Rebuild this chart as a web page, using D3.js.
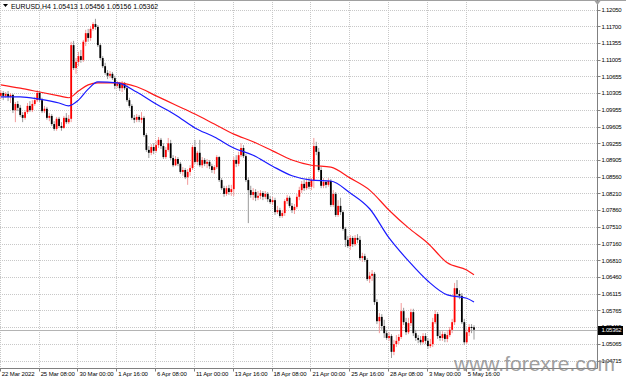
<!DOCTYPE html>
<html>
<head>
<meta charset="utf-8">
<script src="https://cdn.jsdelivr.net/npm/d3@7/dist/d3.min.js"></script>
<style>
body { margin: 0; background: #fff; }
svg { display: block; }
text { font-family: "Liberation Sans", Arial, sans-serif; }
</style>
</head>
<body>
<div id="chart"></div>
<script>
// EURUSD H4 candles, oldest first
var symbol = "EURUSD,H4";

var open = [
  1.1025, 1.1031, 1.1025, 1.1029, 1.1023, 1.1027, 1.0995, 1.1008, 1.1000, 1.0985,
  1.0979, 1.0991, 1.1004, 1.0995, 1.1008, 1.1016, 1.1031, 1.1016, 1.0993, 1.0998,
  1.0979, 1.0983, 1.0966, 1.0956, 1.0977, 1.0962, 1.0958, 1.0979, 1.0970, 1.0977,
  1.1131, 1.1083, 1.1096, 1.1108, 1.1100, 1.1138, 1.1156, 1.1146, 1.1165, 1.1175,
  1.1169, 1.1131, 1.1104, 1.1087, 1.1073, 1.1067, 1.1071, 1.1062, 1.1046, 1.1050,
  1.1041, 1.1052, 1.1041, 1.1016, 1.1004, 1.0979, 1.0975, 1.0981, 1.0975, 1.0979,
  1.0943, 1.0912, 1.0906, 1.0918, 1.0910, 1.0922, 1.0933, 1.0920, 1.0897, 1.0912,
  1.0926, 1.0895, 1.0880, 1.0893, 1.0883, 1.0866, 1.0870, 1.0855, 1.0866, 1.0874,
  1.0918, 1.0887, 1.0906, 1.0880, 1.0891, 1.0883, 1.0887, 1.0878, 1.0870, 1.0876,
  1.0897, 1.0849, 1.0832, 1.0820, 1.0832, 1.0824, 1.0830, 1.0891, 1.0883, 1.0901,
  1.0916, 1.0899, 1.0849, 1.0828, 1.0818, 1.0824, 1.0812, 1.0816, 1.0822, 1.0814,
  1.0820, 1.0809, 1.0803, 1.0807, 1.0782, 1.0786, 1.0774, 1.0780, 1.0805, 1.0812,
  1.0795, 1.0786, 1.0793, 1.0814, 1.0828, 1.0841, 1.0832, 1.0845, 1.0835, 1.0849,
  1.0920, 1.0908, 1.0870, 1.0837, 1.0845, 1.0839, 1.0847, 1.0797, 1.0820, 1.0776,
  1.0795, 1.0782, 1.0747, 1.0724, 1.0711, 1.0728, 1.0715, 1.0728, 1.0724, 1.0686,
  1.0690, 1.0682, 1.0642, 1.0649, 1.0653, 1.0594, 1.0554, 1.0563, 1.0544, 1.0529,
  1.0519, 1.0523, 1.0490, 1.0506, 1.0513, 1.0521, 1.0575, 1.0552, 1.0531, 1.0550,
  1.0573, 1.0529, 1.0519, 1.0515, 1.0510, 1.0523, 1.0513, 1.0502, 1.0506, 1.0552,
  1.0569, 1.0523, 1.0519, 1.0527, 1.0517, 1.0525, 1.0536, 1.0552, 1.0623, 1.0611,
  1.0607, 1.0552, 1.0510, 1.0531, 1.0542, 1.05413
];
var high = [
  1.1037, 1.1035, 1.1033, 1.1035, 1.1031, 1.1029, 1.1012, 1.1014, 1.1006, 1.0991,
  1.0995, 1.1010, 1.1014, 1.1016, 1.1023, 1.1037, 1.1035, 1.1021, 1.1004, 1.1002,
  1.0989, 1.0987, 1.0972, 1.0981, 1.0981, 1.0970, 1.0983, 1.0989, 1.0985, 1.1138,
  1.1140, 1.1104, 1.1117, 1.1121, 1.1142, 1.1163, 1.1165, 1.1171, 1.1179, 1.1186,
  1.1173, 1.1135, 1.1108, 1.1094, 1.1079, 1.1077, 1.1075, 1.1067, 1.1056, 1.1054,
  1.1056, 1.1054, 1.1048, 1.1021, 1.1008, 1.0985, 1.0987, 1.0985, 1.0991, 1.0983,
  1.0947, 1.0920, 1.0924, 1.0926, 1.0931, 1.0939, 1.0937, 1.0926, 1.0918, 1.0937,
  1.0933, 1.0901, 1.0899, 1.0897, 1.0887, 1.0876, 1.0874, 1.0872, 1.0880, 1.0922,
  1.0933, 1.0910, 1.0933, 1.0897, 1.0895, 1.0893, 1.0891, 1.0883, 1.0880, 1.0901,
  1.0899, 1.0853, 1.0837, 1.0837, 1.0839, 1.0839, 1.0897, 1.0901, 1.0908, 1.0926,
  1.0922, 1.0903, 1.0855, 1.0837, 1.0832, 1.0830, 1.0826, 1.0828, 1.0826, 1.0826,
  1.0824, 1.0816, 1.0814, 1.0812, 1.0795, 1.0791, 1.0786, 1.0809, 1.0818, 1.0816,
  1.0801, 1.0799, 1.0820, 1.0835, 1.0847, 1.0849, 1.0853, 1.0855, 1.0853, 1.0937,
  1.0929, 1.0916, 1.0876, 1.0853, 1.0849, 1.0853, 1.0851, 1.0828, 1.0824, 1.0807,
  1.0812, 1.0786, 1.0751, 1.0732, 1.0734, 1.0732, 1.0734, 1.0736, 1.0732, 1.0697,
  1.0695, 1.0686, 1.0657, 1.0661, 1.0657, 1.0600, 1.0571, 1.0569, 1.0557, 1.0536,
  1.0531, 1.0527, 1.0515, 1.0525, 1.0527, 1.0592, 1.0582, 1.0561, 1.0561, 1.0580,
  1.0580, 1.0536, 1.0525, 1.0523, 1.0529, 1.0529, 1.0519, 1.0517, 1.0561, 1.0577,
  1.0573, 1.0533, 1.0533, 1.0531, 1.0533, 1.0542, 1.0559, 1.0634, 1.0640, 1.0619,
  1.0613, 1.0559, 1.0538, 1.0548, 1.0548, 1.05456
];
var low = [
  1.1018, 1.1016, 1.1021, 1.1014, 1.1010, 1.0989, 1.0970, 1.0993, 1.0981, 1.0970,
  1.0975, 1.0987, 1.0991, 1.0991, 1.1004, 1.1012, 1.1012, 1.0989, 1.0989, 1.0975,
  1.0972, 1.0962, 1.0952, 1.0952, 1.0958, 1.0952, 1.0956, 1.0966, 1.0966, 1.0970,
  1.1079, 1.1071, 1.1087, 1.1094, 1.1096, 1.1129, 1.1138, 1.1140, 1.1161, 1.1163,
  1.1127, 1.1100, 1.1083, 1.1069, 1.1060, 1.1062, 1.1058, 1.1039, 1.1041, 1.1035,
  1.1033, 1.1037, 1.1012, 1.1000, 1.0975, 1.0968, 1.0970, 1.0970, 1.0968, 1.0939,
  1.0908, 1.0895, 1.0901, 1.0903, 1.0906, 1.0916, 1.0914, 1.0893, 1.0893, 1.0908,
  1.0891, 1.0876, 1.0878, 1.0878, 1.0862, 1.0858, 1.0851, 1.0839, 1.0858, 1.0870,
  1.0883, 1.0880, 1.0876, 1.0874, 1.0878, 1.0874, 1.0872, 1.0864, 1.0862, 1.0872,
  1.0845, 1.0828, 1.0814, 1.0816, 1.0818, 1.0816, 1.0816, 1.0876, 1.0878, 1.0897,
  1.0895, 1.0845, 1.0759, 1.0812, 1.0807, 1.0805, 1.0807, 1.0809, 1.0807, 1.0809,
  1.0803, 1.0799, 1.0797, 1.0776, 1.0778, 1.0770, 1.0770, 1.0774, 1.0799, 1.0791,
  1.0780, 1.0778, 1.0789, 1.0807, 1.0822, 1.0826, 1.0828, 1.0830, 1.0828, 1.0832,
  1.0901, 1.0866, 1.0832, 1.0832, 1.0832, 1.0835, 1.0793, 1.0793, 1.0772, 1.0772,
  1.0776, 1.0743, 1.0709, 1.0707, 1.0703, 1.0709, 1.0711, 1.0717, 1.0682, 1.0678,
  1.0678, 1.0638, 1.0634, 1.0638, 1.0588, 1.0548, 1.0529, 1.0536, 1.0519, 1.0515,
  1.0513, 1.0477, 1.0483, 1.0500, 1.0506, 1.0517, 1.0546, 1.0525, 1.0527, 1.0544,
  1.0523, 1.0513, 1.0508, 1.0504, 1.0506, 1.0506, 1.0496, 1.0498, 1.0500, 1.0548,
  1.0517, 1.0513, 1.0513, 1.0510, 1.0510, 1.0521, 1.0529, 1.0546, 1.0605, 1.0600,
  1.0548, 1.0504, 1.0506, 1.0523, 1.0529, 1.05156
];
var close = [
  1.1031, 1.1025, 1.1029, 1.1023, 1.1027, 1.0995, 1.1008, 1.1000, 1.0985, 1.0979,
  1.0991, 1.1004, 1.0995, 1.1008, 1.1016, 1.1031, 1.1016, 1.0993, 1.0998, 1.0979,
  1.0983, 1.0966, 1.0956, 1.0977, 1.0962, 1.0958, 1.0979, 1.0970, 1.0977, 1.1131,
  1.1083, 1.1096, 1.1108, 1.1100, 1.1138, 1.1156, 1.1146, 1.1165, 1.1175, 1.1169,
  1.1131, 1.1104, 1.1087, 1.1073, 1.1067, 1.1071, 1.1062, 1.1046, 1.1050, 1.1041,
  1.1052, 1.1041, 1.1016, 1.1004, 1.0979, 1.0975, 1.0981, 1.0975, 1.0979, 1.0943,
  1.0912, 1.0906, 1.0918, 1.0910, 1.0922, 1.0933, 1.0920, 1.0897, 1.0912, 1.0926,
  1.0895, 1.0880, 1.0893, 1.0883, 1.0866, 1.0870, 1.0855, 1.0866, 1.0874, 1.0918,
  1.0887, 1.0906, 1.0880, 1.0891, 1.0883, 1.0887, 1.0878, 1.0870, 1.0876, 1.0897,
  1.0849, 1.0832, 1.0820, 1.0832, 1.0824, 1.0830, 1.0891, 1.0883, 1.0901, 1.0916,
  1.0899, 1.0849, 1.0828, 1.0818, 1.0824, 1.0812, 1.0816, 1.0822, 1.0814, 1.0820,
  1.0809, 1.0803, 1.0807, 1.0782, 1.0786, 1.0774, 1.0780, 1.0805, 1.0812, 1.0795,
  1.0786, 1.0793, 1.0814, 1.0828, 1.0841, 1.0832, 1.0845, 1.0835, 1.0849, 1.0920,
  1.0908, 1.0870, 1.0837, 1.0845, 1.0839, 1.0847, 1.0797, 1.0820, 1.0776, 1.0795,
  1.0782, 1.0747, 1.0724, 1.0711, 1.0728, 1.0715, 1.0728, 1.0724, 1.0686, 1.0690,
  1.0682, 1.0642, 1.0649, 1.0653, 1.0594, 1.0554, 1.0563, 1.0544, 1.0529, 1.0519,
  1.0523, 1.0490, 1.0506, 1.0513, 1.0521, 1.0575, 1.0552, 1.0531, 1.0550, 1.0573,
  1.0529, 1.0519, 1.0515, 1.0510, 1.0523, 1.0513, 1.0502, 1.0506, 1.0552, 1.0569,
  1.0523, 1.0519, 1.0527, 1.0517, 1.0525, 1.0536, 1.0552, 1.0623, 1.0611, 1.0607,
  1.0552, 1.0510, 1.0531, 1.0542, 1.0540, 1.05362
];

// moving averages, read at these bar numbers
var maBars = [0, 8, 16, 24, 28, 32, 36, 40, 48, 56, 64, 72, 80, 88, 96, 104, 112, 120, 128, 136, 144, 152, 160, 168, 176, 184, 192, 195];
var maSlow = [1.1048, 1.1041, 1.1033, 1.1025, 1.1021, 1.1035, 1.1048, 1.1052, 1.1052, 1.1044, 1.1025, 1.1006, 1.0987, 1.0966,
  1.0945, 1.0929, 1.0910, 1.0891, 1.0880, 1.0876, 1.0853, 1.0828, 1.0786, 1.0749, 1.0717, 1.0676, 1.0661, 1.0651];
var maFast = [1.1023, 1.1023, 1.1018, 1.1010, 1.1004, 1.1016, 1.1039, 1.1054, 1.1052, 1.1033, 1.1008, 1.0985, 1.0958, 1.0939,
  1.0916, 1.0901, 1.0878, 1.0858, 1.0849, 1.0847, 1.0822, 1.0789, 1.0728, 1.0680, 1.0638, 1.0609, 1.0602, 1.0594];

var priceTicks = [1.12050, 1.11700, 1.11355, 1.11005, 1.10655, 1.10305, 1.09955, 1.09605, 1.09255, 1.08905, 1.08560,
  1.08210, 1.07860, 1.07510, 1.07160, 1.06810, 1.06460, 1.06115, 1.05765, 1.05415, 1.05065, 1.04715];

var timeLabels = ["22 Mar 2022", "25 Mar 08:00", "30 Mar 00:00", "1 Apr 16:00", "6 Apr 08:00", "11 Apr 00:00",
  "13 Apr 16:00", "18 Apr 08:00", "21 Apr 00:00", "25 Apr 16:00", "28 Apr 08:00", "3 May 00:00", "5 May 16:00"];
var timeLabelBars = [0, 16, 32, 48, 64, 80, 96, 112, 128, 144, 160, 176, 192];

var width = 626, height = 379,
    plotRight = 597.5, plotBottom = 368.5;

var svg = d3.select("#chart").append("svg")
    .attr("width", width)
    .attr("height", height);

svg.append("rect")
    .attr("width", width)
    .attr("height", height)
    .attr("fill", "#fff");

var x = d3.scaleLinear()
    .domain([0, close.length - 1])
    .range([0.8, 474]);

var y = d3.scaleLinear()
    .domain([1.04583, 1.12253])
    .range([367, 0]);

// grid
svg.append("g").selectAll("line")
    .data(priceTicks)
    .enter().append("line")
    .attr("x1", 0).attr("x2", plotRight)
    .attr("y1", d => Math.round(y(d)) + 0.5)
    .attr("y2", d => Math.round(y(d)) + 0.5)
    .style("stroke", "#c8c8c8")
    .style("stroke-dasharray", "1,1");

svg.append("g").selectAll("line")
    .data(timeLabelBars)
    .enter().append("line")
    .attr("x1", d => Math.round(x(d)) - 0.5)
    .attr("x2", d => Math.round(x(d)) - 0.5)
    .attr("y1", 0).attr("y2", plotBottom)
    .style("stroke", "#c8c8c8")
    .style("stroke-dasharray", "1,1");

// last price line
var last = close.length - 1;
svg.append("line")
    .attr("x1", 0).attr("x2", plotRight)
    .attr("y1", Math.round(y(close[last])) + 0.5)
    .attr("y2", Math.round(y(close[last])) + 0.5)
    .style("stroke", "#b4b4b4");

// candles
var bars = d3.range(close.length);
var g = svg.append("g");

g.selectAll(".wick")
    .data(bars)
    .enter().append("line")
    .attr("class", "wick")
    .attr("x1", i => x(i)).attr("x2", i => x(i))
    .attr("y1", i => y(high[i]))
    .attr("y2", i => y(low[i]))
    .style("stroke", i => close[i] >= open[i] ? "#f39a9a" : "#9a9a9a")
    .style("stroke-width", 1);

g.selectAll(".body")
    .data(bars)
    .enter().append("rect")
    .attr("class", "body")
    .attr("x", i => x(i) - 0.9)
    .attr("width", 1.8)
    .attr("y", i => y(Math.max(open[i], close[i])))
    .attr("height", i => Math.max(1, Math.abs(y(open[i]) - y(close[i]))))
    .style("fill", i => close[i] >= open[i] ? "#ff0000" : "#000000");

// moving averages
var maLine = d3.line()
    .x(d => x(d[0]))
    .y(d => y(d[1]))
    .curve(d3.curveMonotoneX);

svg.append("path")
    .attr("d", maLine(maBars.map((b, k) => [b, maSlow[k]])))
    .style("fill", "none")
    .style("stroke", "#ff1a1a")
    .style("stroke-width", 1.2);

svg.append("path")
    .attr("d", maLine(maBars.map((b, k) => [b, maFast[k]])))
    .style("fill", "none")
    .style("stroke", "#1a1aff")
    .style("stroke-width", 1.2);

// frame
svg.append("line")
    .attr("x1", 0).attr("x2", width)
    .attr("y1", 0.5).attr("y2", 0.5)
    .style("stroke", "#a0a0a0");
svg.append("line")
    .attr("x1", plotRight).attr("x2", plotRight)
    .attr("y1", 0).attr("y2", plotBottom)
    .style("stroke", "#808080");
svg.append("line")
    .attr("x1", 0).attr("x2", plotRight)
    .attr("y1", plotBottom).attr("y2", plotBottom)
    .style("stroke", "#808080");

svg.append("path")
    .attr("d", "M" + (plotRight - 3) + ",1 L" + (plotRight + 3) + ",1 L" + plotRight + ",5 Z")
    .style("fill", "#a0a0a0");

// price axis
var py = svg.append("g");
py.selectAll("line")
    .data(priceTicks)
    .enter().append("line")
    .attr("x1", plotRight).attr("x2", plotRight + 3)
    .attr("y1", d => Math.round(y(d)) + 0.5)
    .attr("y2", d => Math.round(y(d)) + 0.5)
    .style("stroke", "#808080");
py.selectAll("text")
    .data(priceTicks)
    .enter().append("text")
    .attr("x", plotRight + 4)
    .attr("y", d => y(d) + 2.2)
    .style("font-size", "6px")
    .style("letter-spacing", "-0.25px")
    .style("fill", "#000")
    .text(d => d.toFixed(5));

py.append("rect")
    .attr("x", plotRight + 0.5)
    .attr("y", Math.round(y(close[last])) - 4)
    .attr("width", 25)
    .attr("height", 9)
    .style("fill", "#000");
py.append("text")
    .attr("x", plotRight + 4)
    .attr("y", y(close[last]) + 2.6)
    .style("font-size", "6px")
    .style("letter-spacing", "-0.25px")
    .style("fill", "#fff")
    .text(close[last].toFixed(5));

// time axis
var tx = svg.append("g");
tx.selectAll("line")
    .data(timeLabelBars)
    .enter().append("line")
    .attr("x1", d => Math.round(x(d)) - 0.5)
    .attr("x2", d => Math.round(x(d)) - 0.5)
    .attr("y1", plotBottom).attr("y2", plotBottom + 3)
    .style("stroke", "#808080");
tx.selectAll("text")
    .data(timeLabels)
    .enter().append("text")
    .attr("x", (d, k) => x(timeLabelBars[k]) + 1)
    .attr("y", 376)
    .style("font-size", "6px")
    .style("letter-spacing", "-0.1px")
    .style("fill", "#000")
    .text(d => d);

// header
svg.append("path")
    .attr("d", "M3,4 L8,4 L5.5,7 Z")
    .style("fill", "#000");
svg.append("text")
    .attr("x", 11)
    .attr("y", 8.5)
    .style("font-size", "6.9px")
    .style("fill", "#000")
    .text(symbol + "  " + [open[last], high[last], low[last], close[last]].map(v => v.toFixed(5)).join(" "));

// watermark
svg.append("text")
    .attr("x", 454)
    .attr("y", 371)
    .style("font-size", "21px")
    .style("fill", "#8a8a8a")
    .style("opacity", 0.8)
    .text("www.forexre.com");
</script>
</body>
</html>
